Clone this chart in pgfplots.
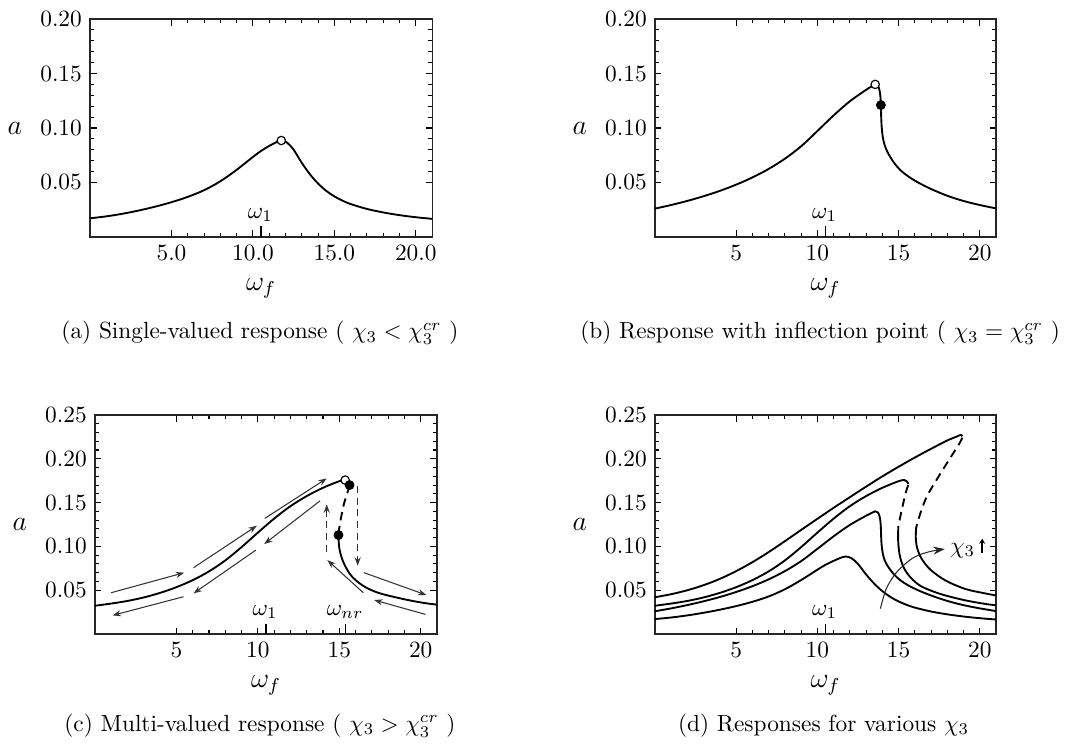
\documentclass[border=0pt]{standalone}
\usepackage{pgfplots}
\pgfplotsset{compat=1.18}
\usetikzlibrary{arrows.meta}
\pgfplotsset{
  panel/.style={
    scale only axis, anchor=south west,
    xmin=0, xmax=21, ymin=0,
    xtick={5,10,15,20},
    minor x tick num=4, minor y tick num=4,
    tick align=inside, xtick pos=both, ytick pos=both,
    major tick length=2.8pt, minor tick length=1.7pt,
    tick style={line width=0.45pt, black},
    axis line style={line width=0.5pt, black!85},
    scaled y ticks=false,
    yticklabel style={/pgf/number format/fixed,/pgf/number format/precision=2,/pgf/number format/fixed zerofill},
    xlabel={$\omega_f$}, ylabel={$a$},
    xlabel style={at={(axis description cs:0.5,-0.235)}, anchor=center, font=\large},
    ylabel style={at={(axis description cs:-0.22,0.5)}, anchor=center, rotate=-90, font=\large},
  },
  crv/.style={smooth, tension=0.55, line width=0.8pt, black},
  dsh/.style={smooth, tension=0.55, line width=0.8pt, black, dash pattern=on 3.6pt off 2.4pt},
  opn/.style={only marks, mark=*, mark size=1.8pt, mark options={fill=white, draw=black, line width=0.5pt}},
  fld/.style={only marks, mark=*, mark size=1.9pt, mark options={fill=black, draw=black}},
  arr/.style={line width=0.45pt, black!80, -{Stealth[length=3.6pt, width=2.6pt]}},
  darr/.style={line width=0.45pt, black!80, dash pattern=on 3pt off 2pt, -{Stealth[length=3.6pt, width=2.6pt]}},
}
\begin{document}
\begin{tikzpicture}
\path[use as bounding box] (0pt,0pt) rectangle (464.17pt,320.16pt);

% ---------------- (a)
\begin{axis}[panel, at={(38.6pt,218.6pt)}, width=146.6pt, height=93.4pt, ymax=0.20,
  ytick={0.05,0.10,0.15,0.20},
  xticklabel style={/pgf/number format/fixed,/pgf/number format/precision=1,/pgf/number format/fixed zerofill}]
\addplot[crv] coordinates {(0,0.0171) (1,0.0189) (2,0.0213) (3,0.0243) (4,0.0278) (5,0.0319) (6,0.0368) (7,0.0429) (8,0.0511) (9,0.0616) (10,0.0734) (10.5,0.0790) (11,0.0835) (11.4,0.0867) (11.74,0.0885) (12.1,0.0865) (12.5,0.0800) (13,0.0680) (13.5,0.0575) (14,0.0490) (14.5,0.0423) (15,0.0372) (15.5,0.0333) (16,0.0302) (17,0.0257) (18,0.0225) (19,0.0200) (20,0.0181) (21,0.0166)};
\addplot[opn] coordinates {(11.74,0.0885)};
\draw[line width=0.5pt] (axis cs:10.5,0) -- ++(0pt,4.5pt);
\node[anchor=base, yshift=8pt] at (axis cs:10.45,0) {$\omega_1$};
\end{axis}

% ---------------- (b)
\begin{axis}[panel, at={(280.7pt,218.6pt)}, width=146.2pt, height=93.4pt, ymax=0.20,
  ytick={0.05,0.10,0.15,0.20}]
\addplot[crv] coordinates {(0,0.0260) (1,0.0293) (2,0.0331) (3,0.0374) (4,0.0423) (5,0.0480) (6,0.0546) (7,0.0624) (8,0.0718) (9,0.0832) (10,0.0972) (11,0.1115) (12,0.1245) (13,0.1350) (13.3,0.1378) (13.56,0.1400) (13.72,0.1388) (13.82,0.1350) (13.88,0.1290) (13.91,0.1210) (13.93,0.1100) (13.96,0.1010) (14.03,0.0915) (14.15,0.0840) (14.35,0.0770) (14.7,0.0685) (15.1,0.0615) (15.6,0.0555) (16.2,0.0500) (17,0.0440) (18,0.0378) (19,0.0330) (20,0.0293) (21,0.0262)};
\addplot[opn] coordinates {(13.56,0.1400)};
\addplot[fld] coordinates {(13.91,0.1210)};
\draw[line width=0.5pt] (axis cs:10.5,0) -- ++(0pt,4.5pt);
\node[anchor=base, yshift=8pt] at (axis cs:10.45,0) {$\omega_1$};
\end{axis}

% ---------------- (c)
\begin{axis}[panel, at={(40.7pt,48.4pt)}, width=146.6pt, height=93.9pt, ymax=0.25,
  ytick={0.05,0.10,0.15,0.20,0.25}]
\addplot[crv] coordinates {(0,0.0323) (1,0.0348) (2,0.0378) (3,0.0418) (4,0.0470) (5,0.0535) (6,0.0615) (7,0.0715) (8,0.0840) (9,0.0992) (10,0.1157) (11,0.1317) (12,0.1459) (13,0.1574) (14,0.1669) (15,0.1744) (15.36,0.1757) (15.52,0.1740) (15.63,0.1700)};
\addplot[dsh] coordinates {(15.63,0.1700) (15.48,0.1600) (15.28,0.1480) (15.10,0.1320) (15.00,0.1210) (14.95,0.1130)};
\addplot[crv] coordinates {(14.95,0.1130) (14.97,0.1040) (15.02,0.0960) (15.15,0.0870) (15.30,0.0800) (15.50,0.0730) (15.76,0.0660) (16.2,0.0585) (16.7,0.0525) (17.4,0.0470) (18.1,0.0435) (19.3,0.0385) (20.3,0.0352) (21,0.0336)};
\addplot[opn] coordinates {(15.36,0.1757)};
\addplot[fld] coordinates {(15.63,0.1700) (14.95,0.1130)};
\addplot[arr] coordinates {(0.98,0.0471) (5.48,0.0700)};
\addplot[arr] coordinates {(6.05,0.0757) (9.94,0.1236)};
\addplot[arr] coordinates {(10.43,0.1320) (14.23,0.1776)};
\addplot[arr] coordinates {(13.82,0.1520) (10.39,0.1027)};
\addplot[arr] coordinates {(9.88,0.0958) (6.05,0.0464)};
\addplot[arr] coordinates {(5.44,0.0426) (1.08,0.0213)};
\addplot[darr] coordinates {(14.23,0.0940) (14.23,0.1480)};
\addplot[darr] coordinates {(16.13,0.1690) (16.13,0.0780)};
\addplot[arr] coordinates {(16.52,0.0700) (20.35,0.0445)};
\addplot[arr] coordinates {(20.30,0.0224) (17.14,0.0388)};
\addplot[arr] coordinates {(16.48,0.0471) (14.27,0.0844)};
\draw[line width=0.5pt] (axis cs:10.5,0) -- ++(0pt,4.5pt);
\node[anchor=base, yshift=8pt] at (axis cs:10.45,0) {$\omega_1$};
\draw[line width=0.5pt] (axis cs:15.36,0) -- ++(0pt,4.5pt);
\node[anchor=base, yshift=8pt] at (axis cs:15.36,0) {$\omega_{nr}$};
\end{axis}

% ---------------- (d)
\begin{axis}[panel, at={(280.7pt,48.4pt)}, width=146.2pt, height=93.9pt, ymax=0.25,
  ytick={0.05,0.10,0.15,0.20,0.25}]
% curve 1
\addplot[crv] coordinates {(0,0.0171) (1,0.0189) (2,0.0213) (3,0.0243) (4,0.0278) (5,0.0319) (6,0.0368) (7,0.0429) (8,0.0511) (9,0.0616) (10,0.0734) (10.5,0.0790) (11,0.0835) (11.4,0.0867) (11.74,0.0885) (12.1,0.0865) (12.5,0.0800) (13,0.0680) (13.5,0.0575) (14,0.0490) (14.5,0.0423) (15,0.0372) (15.5,0.0333) (16,0.0302) (17,0.0257) (18,0.0225) (19,0.0200) (20,0.0181) (21,0.0166)};
% curve 2
\addplot[crv] coordinates {(0,0.0260) (1,0.0293) (2,0.0331) (3,0.0374) (4,0.0423) (5,0.0480) (6,0.0546) (7,0.0624) (8,0.0718) (9,0.0832) (10,0.0972) (11,0.1115) (12,0.1245) (13,0.1350) (13.3,0.1378) (13.56,0.1400) (13.72,0.1388) (13.82,0.1350) (13.88,0.1290) (13.91,0.1210) (13.93,0.1100) (13.96,0.1010) (14.03,0.0915) (14.15,0.0840) (14.35,0.0770) (14.7,0.0685) (15.1,0.0615) (15.6,0.0555) (16.2,0.0500) (17,0.0440) (18,0.0378) (19,0.0330) (20,0.0293) (21,0.0262)};
% curve 3
\addplot[crv] coordinates {(0,0.0323) (1,0.0348) (2,0.0378) (3,0.0418) (4,0.0470) (5,0.0535) (6,0.0615) (7,0.0715) (8,0.0840) (9,0.0992) (10,0.1157) (11,0.1317) (12,0.1459) (13,0.1574) (14,0.1669) (15,0.1744) (15.36,0.1757) (15.52,0.1740) (15.60,0.1712)};
\addplot[dsh] coordinates {(15.60,0.1700) (15.50,0.1650) (15.36,0.1550) (15.20,0.1420) (15.05,0.1290) (14.98,0.1220)};
\addplot[crv] coordinates {(14.98,0.1220) (14.97,0.1100) (14.99,0.1020) (15.05,0.0920) (15.15,0.0840) (15.30,0.0765) (15.54,0.0690) (15.90,0.0615) (16.34,0.0550) (17.0,0.0495) (17.8,0.0445) (19.1,0.0385) (20.3,0.0345) (21,0.0328)};
% curve 4
\addplot[crv] coordinates {(0,0.0420) (1,0.0455) (2,0.0500) (3,0.0558) (4,0.0630) (5,0.0718) (6,0.0820) (7,0.0935) (8,0.1060) (9,0.1188) (10,0.1315) (11,0.1440) (12,0.1562) (13,0.1682) (14,0.1799) (15,0.1909) (16,0.2014) (17,0.2114) (18,0.2209) (18.6,0.2255) (18.82,0.2272) (18.93,0.2258)};
\addplot[dsh] coordinates {(18.93,0.2240) (18.70,0.2160) (18.44,0.2085) (17.84,0.1910) (17.24,0.1730) (16.74,0.1570) (16.40,0.1410) (16.18,0.1280) (16.08,0.1210)};
\addplot[crv] coordinates {(16.08,0.1210) (16.06,0.1100) (16.12,0.1000) (16.30,0.0900) (16.60,0.0810) (17.05,0.0720) (17.90,0.0610) (19.10,0.0515) (20.30,0.0465) (21,0.0440)};
% chi3 arrow
\addplot[smooth, line width=0.45pt, black!85, -{Stealth[length=5pt, width=3.4pt]}] coordinates {(13.88,0.0290) (14.25,0.0520) (14.9,0.0710) (15.9,0.0870) (16.9,0.0940) (17.85,0.0970)};
\node[anchor=west, inner sep=1pt] (chi) at (axis cs:18.0,0.0955) {$\chi_3$};
\draw[line width=0.7pt, -{Stealth[length=2.2pt, width=2.6pt]}] ([xshift=1.8pt]chi.base east) -- ++(0pt,6.2pt);
\draw[line width=0.5pt] (axis cs:10.5,0) -- ++(0pt,4.5pt);
\node[anchor=base, yshift=8pt] at (axis cs:10.45,0) {$\omega_1$};
\end{axis}

% captions
\node at (111.4pt,177.4pt) {(a) Single-valued response ( $\chi_3 < \chi_3^{cr}$ )};
\node at (351.5pt,177.4pt) {(b) Response with inflection point ( $\chi_3 = \chi_3^{cr}$ )};
\node at (111.4pt,9.2pt) {(c) Multi-valued response ( $\chi_3 > \chi_3^{cr}$ )};
\node at (353.0pt,9.2pt) {(d) Responses for various $\chi_3$};
\end{tikzpicture}
\end{document}
